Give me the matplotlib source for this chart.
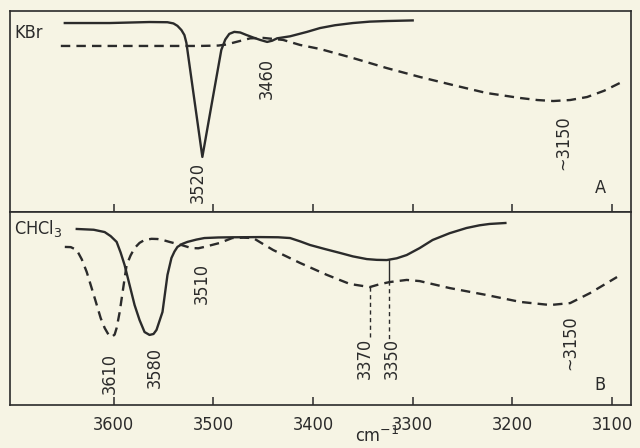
import matplotlib
matplotlib.use("Agg")
import matplotlib.pyplot as plt

# ---------------- data ----------------
# Panel A (KBr)
kbr_solid_wn = [3649, 3604, 3564, 3546, 3540, 3536, 3532, 3529, 3527, 3519, 3511, 3502,
                3492, 3488, 3484, 3479, 3473, 3467, 3460, 3453, 3446, 3441, 3436, 3423,
                3406, 3393, 3378, 3360, 3343, 3326, 3300]
kbr_solid_t = [94.0, 94.0, 94.5, 94.4, 93.8, 92.6, 90.5, 88.0, 84.1, 55.7, 27.4, 52.7,
               80.6, 85.8, 88.6, 89.6, 89.3, 88.1, 86.8, 85.6, 84.6, 85.2, 86.4, 87.4,
               89.6, 91.5, 92.9, 94.0, 94.7, 95.0, 95.3]
kbr_dash_wn = [3653, 3614, 3564, 3514, 3495, 3487, 3477, 3463, 3450, 3430, 3413, 3393,
               3360, 3326, 3293, 3260, 3226, 3192, 3175, 3159, 3142, 3125, 3108, 3090]
kbr_dash_t = [82.6, 82.6, 82.6, 82.6, 82.8, 83.3, 84.6, 86.4, 86.6, 85.6, 83.1, 81.1,
              76.6, 71.6, 67.2, 63.2, 59.2, 56.7, 55.7, 55.2, 55.7, 57.2, 60.3, 64.7]

# Panel B (CHCl3)
chcl_solid_wn = [3637, 3620, 3609, 3603, 3597, 3593, 3589, 3579, 3574, 3569, 3564, 3560,
                 3557, 3551, 3546, 3542, 3539, 3536, 3531, 3526, 3517, 3509, 3495, 3481,
                 3453, 3435, 3423, 3413, 3403, 3388, 3373, 3360, 3346, 3336, 3326, 3316,
                 3306, 3293, 3280, 3263, 3246, 3233, 3223, 3207]
chcl_solid_t = [91.2, 90.8, 89.6, 87.5, 84.5, 79.0, 72.5, 51.8, 44.0, 37.8, 36.3, 36.8,
                38.9, 48.2, 67.4, 76.2, 79.5, 81.9, 83.5, 84.5, 85.7, 86.5, 86.8, 86.9,
                87.0, 86.9, 86.5, 84.8, 82.9, 80.8, 78.8, 77.0, 75.6, 75.2, 75.1, 76.0,
                77.7, 81.3, 85.5, 89.0, 91.7, 93.1, 93.8, 94.3]
chcl_dash_wn = [3649, 3643, 3637, 3632, 3627, 3619, 3613, 3609, 3605, 3602, 3599, 3597,
                3594, 3591, 3587, 3583, 3579, 3574, 3569, 3562, 3556, 3550, 3544, 3532,
                3522, 3515, 3509, 3494, 3481, 3470, 3460, 3452, 3440, 3413, 3386, 3363,
                3343, 3333, 3323, 3306, 3293, 3263, 3226, 3192, 3162, 3142, 3122, 3095]
chcl_dash_t = [81.9, 81.8, 80.3, 75.5, 68.9, 55.4, 45.0, 39.9, 36.3, 35.2, 36.5, 39.9,
               48.0, 58.5, 72.5, 77.5, 81.3, 84.0, 85.5, 86.1, 86.0, 85.4, 84.5, 82.9,
               81.3, 81.2, 81.9, 83.9, 86.5, 86.7, 86.5, 84.0, 80.3, 73.6, 67.4, 62.7,
               61.1, 62.6, 63.7, 64.8, 64.2, 60.6, 57.0, 53.4, 51.8, 52.8, 58.0, 66.3]

# peak labels: (text, wavenumber, top of label in T units)
kbr_labels = [("3520", 3516, 24.9), ("3460", 3446, 76.6), ("~3150", 3149, 48.3)]
chcl_labels = [("3610", 3604, 26.9), ("3580", 3559, 30.0), ("3510", 3512, 73.6),
               ("3370", 3348, 34.7), ("3350", 3321, 34.7), ("~3150", 3142, 46.6)]

# marker lines in panel B: (wavenumber, T top, T bottom, style)
marker_lines = [(3343, 61.1, 33.7, "dashed"),
                (3324, 75.1, 64.2, "solid"),
                (3324, 64.2, 33.7, "dashed")]

xticks = [3600, 3500, 3400, 3300, 3200, 3100]
xlim = (3704, 3081)

# ---------------- styling ----------------
bg = "#f6f4e4"
ink = "#2b2b2b"
font = dict(family="DejaVu Sans", fontstretch="condensed", color=ink)

fig = plt.figure(figsize=(6.4, 4.48), dpi=100, facecolor=bg)
axA = fig.add_axes([0.0156, 0.5268, 0.9703, 0.4487], facecolor=bg)
axB = fig.add_axes([0.0156, 0.0960, 0.9703, 0.4308], facecolor=bg)

dash = (4, 2.6)
for ax in (axA, axB):
    ax.set_xlim(*xlim)
    ax.set_ylim(0, 100)
    ax.set_yticks([])
    ax.set_xticks(xticks)
    ax.tick_params(axis="x", direction="in", length=6, width=1.1, color=ink,
                   pad=8, labelsize=13, labelcolor=ink)
    for s in ax.spines.values():
        s.set_color(ink)
        s.set_linewidth(1.2)

axA.tick_params(axis="x", labelbottom=False)
axB.set_xticklabels([str(t) for t in xticks], fontstretch="condensed")

lw = 1.7
axA.plot(kbr_solid_wn, kbr_solid_t, color=ink, lw=lw, solid_joinstyle="round")
axA.plot(kbr_dash_wn, kbr_dash_t, color=ink, lw=lw, dashes=dash)
axB.plot(chcl_solid_wn, chcl_solid_t, color=ink, lw=lw, solid_joinstyle="round")
axB.plot(chcl_dash_wn, chcl_dash_t, color=ink, lw=lw, dashes=dash)

for wn, t0, t1, st in marker_lines:
    if st == "solid":
        axB.plot([wn, wn], [t0, t1], color=ink, lw=1.0)
    else:
        axB.plot([wn, wn], [t0, t1], color=ink, lw=1.0, dashes=(3, 2.5))

for txt, wn, t in kbr_labels:
    axA.text(wn, t, txt, rotation=90, ha="center", va="top", fontsize=13, **font)
for txt, wn, t in chcl_labels:
    axB.text(wn, t, txt, rotation=90, ha="center", va="top", fontsize=13, **font)

axA.text(3700, 89, "KBr", ha="left", va="center", fontsize=13, **font)
axA.text(3112, 11.9, "A", ha="center", va="center", fontsize=13, **font)
axB.text(3700, 91.2, "CHCl$_3$", ha="left", va="center", fontsize=13, **font)
axB.text(3112, 10.4, "B", ha="center", va="center", fontsize=13, **font)

fig.text(0.59, 0.004, "cm$^{-1}$", ha="center", va="bottom", fontsize=13, **font)

fig.savefig("out.png", dpi=100, facecolor=bg)
